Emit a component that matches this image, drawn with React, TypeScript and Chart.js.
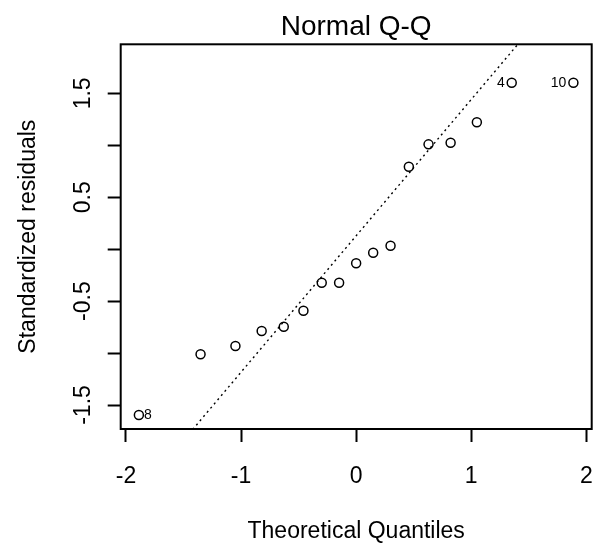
import React, { useEffect, useRef } from 'react';
import { Chart, registerables } from 'chart.js';

Chart.register(...registerables);

const FONT = '"Liberation Sans", Arial, Helvetica, sans-serif';

// ---- text ----
const titleText = 'Normal Q-Q';
const xAxisTitle = 'Theoretical Quantiles';
const yAxisTitle = 'Standardized residuals';

// ---- data ----
const theoreticalQuantiles = [
  -1.888, -1.352, -1.049, -0.821, -0.629, -0.458, -0.299, -0.148, 0.0,
  0.148, 0.299, 0.458, 0.629, 0.821, 1.049, 1.352, 1.888,
];
const standardizedResiduals = [
  -1.596, -1.012, -0.932, -0.788, -0.746, -0.592, -0.323, -0.323, -0.136,
  -0.034, 0.033, 0.794, 1.009, 1.025, 1.221, 1.602, 1.602,
];

// identified points
const idPointIndex = [0, 15, 16];
const idLabels = ['8', '4', '10'];
const idSide = ['right', 'left', 'left'];

// reference (qq) line end points
const qqLineX = [-1.42, 1.405];
const qqLineY = [-1.735, 1.972];

// axes
const xRange = [-2.046, 2.047];
const yRange = [-1.731, 1.972];
const xTicks = [-2, -1, 0, 1, 2];
const xTickLabels = ['-2', '-1', '0', '1', '2'];
const yTicks = [-1.5, -1, -0.5, 0, 0.5, 1, 1.5];
const yTickLabels = ['-1.5', '', '-0.5', '', '0.5', '', '1.5'];

const decorPlugin = {
  id: 'decor',
  afterDatasetsDraw(chart: any) {
    const { ctx, chartArea: a, scales } = chart;
    ctx.save();
    // box
    ctx.strokeStyle = '#000';
    ctx.lineWidth = 2;
    ctx.strokeRect(a.left, a.top, a.right - a.left, a.bottom - a.top);
    // title
    ctx.fillStyle = '#000';
    ctx.font = `28px ${FONT}`;
    ctx.textAlign = 'center';
    ctx.textBaseline = 'alphabetic';
    ctx.fillText(titleText, (a.left + a.right) / 2, a.top - 9.3);
    // id labels
    ctx.font = `14px ${FONT}`;
    ctx.textBaseline = 'middle';
    idPointIndex.forEach((idx, k) => {
      const px = scales.x.getPixelForValue(theoreticalQuantiles[idx]);
      const py = scales.y.getPixelForValue(standardizedResiduals[idx]);
      if (idSide[k] === 'right') {
        ctx.textAlign = 'left';
        ctx.fillText(idLabels[k], px + 5, py + 0.5);
      } else {
        ctx.textAlign = 'right';
        ctx.fillText(idLabels[k], px - 7, py + 0.5);
      }
    });
    ctx.restore();
  },
};

export default function App() {
  const ref = useRef<HTMLCanvasElement | null>(null);

  useEffect(() => {
    if (!ref.current) return;
    const chart = new Chart(ref.current, {
      type: 'scatter',
      data: {
        datasets: [
          {
            label: 'points',
            data: theoreticalQuantiles.map((x, i) => ({ x, y: standardizedResiduals[i] })),
            showLine: false,
            pointStyle: 'circle',
            pointRadius: 4.5,
            pointBorderWidth: 1.5,
            pointBorderColor: '#000',
            pointBackgroundColor: 'rgba(0,0,0,0)',
          },
          {
            label: 'qqline',
            data: qqLineX.map((x, i) => ({ x, y: qqLineY[i] })),
            showLine: true,
            pointRadius: 0,
            borderColor: '#000',
            borderWidth: 1.4,
            borderDash: [2, 3.5],
            clip: 0,
          } as any,
        ],
      },
      options: {
        animation: false,
        responsive: true,
        maintainAspectRatio: false,
        devicePixelRatio: 1,
        layout: { autoPadding: false, padding: { top: 44.3, right: 3.3, left: 0, bottom: 0 } },
        plugins: { legend: { display: false }, tooltip: { enabled: false }, title: { display: false } },
        scales: {
          x: {
            type: 'linear',
            min: xRange[0],
            max: xRange[1],
            afterBuildTicks: (s: any) => {
              s.ticks = xTicks.map((v) => ({ value: v }));
            },
            afterFit: (s: any) => {
              s.height = 116;
              s.paddingLeft = 0;
              s.paddingRight = 0;
              s.paddingTop = 0;
              s.paddingBottom = 0;
            },
            ticks: {
              autoSkip: false,
              maxRotation: 0,
              minRotation: 0,
              padding: 21,
              color: '#000',
              font: { family: FONT, size: 23 },
              callback: (v: any) => xTickLabels[xTicks.indexOf(Number(v))] ?? '',
            },
            grid: {
              display: true,
              drawOnChartArea: false,
              drawTicks: true,
              tickLength: 13,
              tickWidth: 2,
              tickColor: '#000',
            },
            border: { display: false },
            title: {
              display: true,
              text: xAxisTitle,
              color: '#000',
              font: { family: FONT, size: 23 },
              padding: { top: 0, bottom: 0 },
            },
          },
          y: {
            type: 'linear',
            min: yRange[0],
            max: yRange[1],
            afterBuildTicks: (s: any) => {
              s.ticks = yTicks.map((v) => ({ value: v }));
            },
            afterFit: (s: any) => {
              s.width = 120.7;
              s.paddingLeft = 0;
              s.paddingRight = 0;
              s.paddingTop = 0;
              s.paddingBottom = 0;
            },
            ticks: {
              autoSkip: false,
              minRotation: 90,
              maxRotation: 90,
              crossAlign: 'center',
              padding: 4,
              color: '#000',
              font: { family: FONT, size: 23 },
              callback: (v: any) => yTickLabels[yTicks.indexOf(Number(v))] ?? '',
            },
            grid: {
              display: true,
              drawOnChartArea: false,
              drawTicks: true,
              tickLength: 13,
              tickWidth: 2,
              tickColor: '#000',
            },
            border: { display: false },
            title: {
              display: true,
              text: yAxisTitle,
              color: '#000',
              font: { family: FONT, size: 23 },
              padding: { top: 14.7, bottom: 0 },
            },
          },
        },
      } as any,
      plugins: [decorPlugin],
    });
    return () => chart.destroy();
  }, []);

  return (
    <div style={{ position: 'fixed', left: 0, top: 0, width: 595, height: 545, background: '#fff' }}>
      <canvas ref={ref} />
    </div>
  );
}
